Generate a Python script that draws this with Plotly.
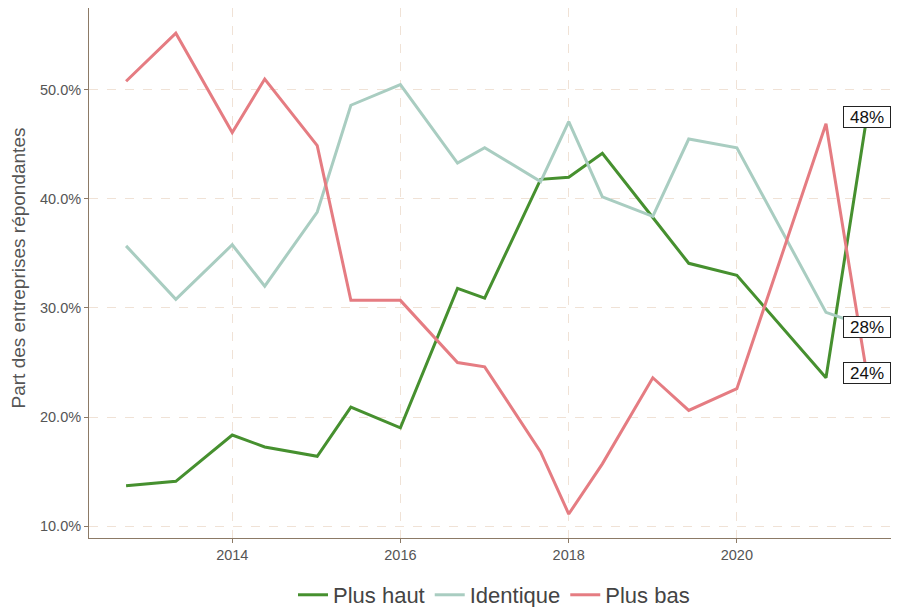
import plotly.graph_objects as go

dates = ["2012-09-27", "2013-05-01", "2014-01-01", "2014-05-22", "2015-01-05",
         "2015-05-31", "2016-01-01", "2016-09-05", "2017-01-01", "2017-09-01",
         "2018-01-01", "2018-05-27", "2019-01-01", "2019-06-06", "2020-01-01",
         "2021-01-22", "2021-07-18"]

plus_haut = [13.7, 14.1, 18.35, 17.25, 16.4, 20.9, 19.0, 31.8, 30.9, 41.8,
             42.0, 44.2, 38.3, 34.1, 33.0, 23.6, 47.5]
identique = [35.7, 30.8, 35.8, 32.0, 38.8, 48.6, 50.5, 43.3, 44.7, 41.6,
             47.1, 40.2, 38.4, 45.5, 44.7, 29.6, 28.3]
plus_bas = [50.8, 55.2, 46.1, 51.0, 44.9, 30.7, 30.7, 25.0, 24.6, 16.8,
            11.1, 15.7, 23.6, 20.6, 22.6, 46.9, 24.0]

series = [("Plus haut", plus_haut, "#46902f"),
          ("Identique", identique, "#a9cdc1"),
          ("Plus bas", plus_bas, "#e57c82")]

fig = go.Figure()
for name, vals, col in series:
    fig.add_trace(go.Scatter(x=dates, y=vals, name=name, mode="lines",
                             line=dict(color=col, width=3)))

for name, vals, col in series:
    fig.add_annotation(x=dates[-1], y=vals[-1], text=f"{round(vals[-1]):.0f}%",
                       showarrow=False, xanchor="center", yanchor="middle",
                       font=dict(size=17, color="#111"), bgcolor="white",
                       bordercolor="#222", borderwidth=1, borderpad=1,
                       width=44, height=18)

fig.add_annotation(x=-71 / 810, xref="paper", y=0.5085, yref="paper", showarrow=False,
                   text="Part des entreprises répondantes", textangle=-90,
                   xanchor="center", yanchor="middle",
                   font=dict(size=19, color="#555555"))

# page body has an 8px margin: figure is shrunk/shifted to compensate
fig.update_layout(
    width=891, height=599,
    margin=dict(l=81, r=0, t=0, b=69, autoexpand=False),
    paper_bgcolor="white", plot_bgcolor="white",
    font=dict(family="Liberation Sans, Arial, sans-serif", color="#555555"),
    showlegend=True,
    legend=dict(orientation="h", x=0.5, xanchor="center", y=-0.1075, yanchor="middle",
                font=dict(size=22, color="#444444"), itemwidth=30,
                tracegroupgap=0),
    xaxis=dict(range=["2012-04-19", "2021-12-05"], tick0="2014-01-01", dtick="M24",
               tickformat="%Y", showgrid=True, gridcolor="#f0e2d6", griddash="dash",
               gridwidth=1, showline=True, linecolor="#8c7a66", linewidth=1,
               ticks="outside", ticklen=4, tickcolor="#8c7a66", automargin=False,
               tickfont=dict(size=14.5, color="#555555"), zeroline=False),
    yaxis=dict(range=[8.9, 57.52], tickvals=[10, 20, 30, 40, 50],
               ticktext=["10.0%", "20.0%", "30.0%", "40.0%", "50.0%"],
               showgrid=True, gridcolor="#f0e2d6", griddash="dash", gridwidth=1,
               showline=True, linecolor="#8c7a66", linewidth=1, automargin=False,
               ticks="outside", ticklen=4, tickcolor="#8c7a66",
               tickfont=dict(size=14.5, color="#555555"), zeroline=False),
)

fig.write_html("out.html")
